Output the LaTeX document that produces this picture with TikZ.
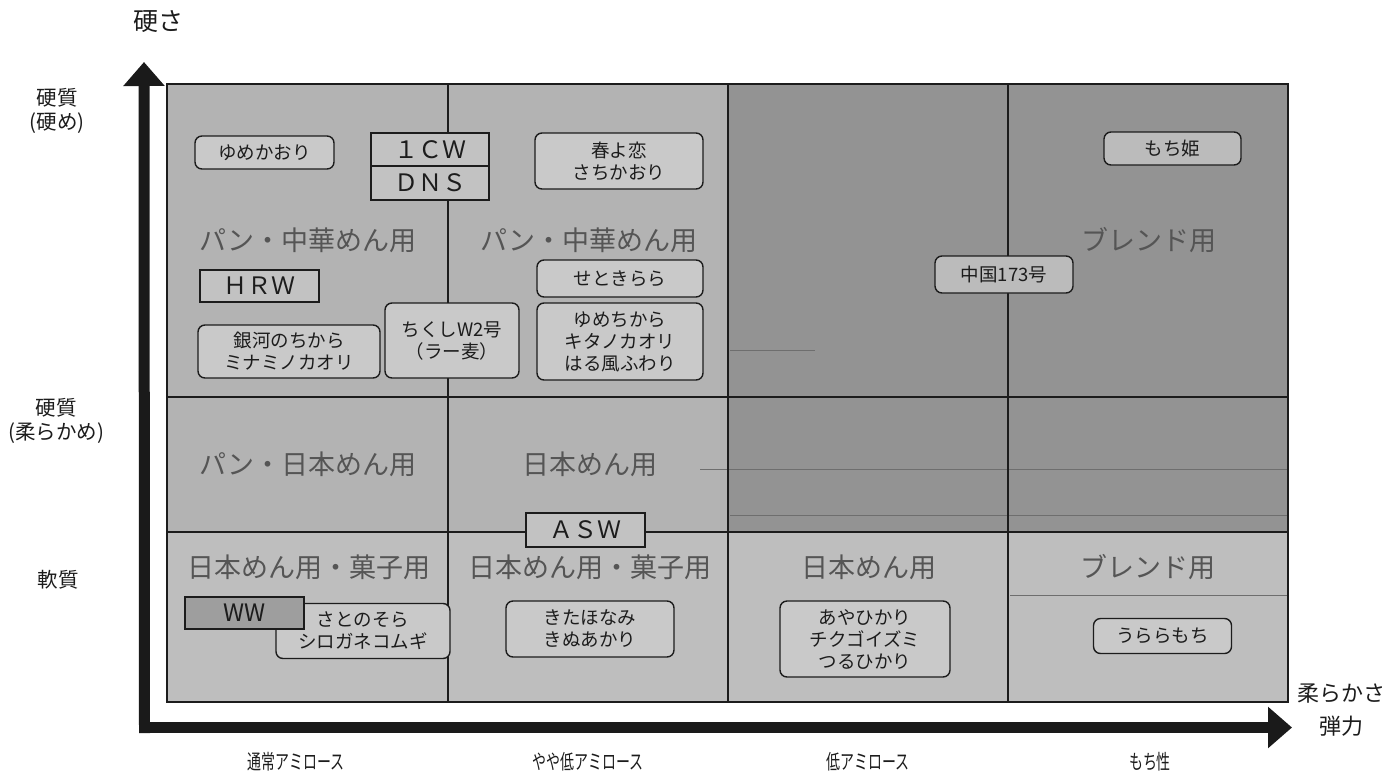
\documentclass[tikz,border=0pt]{standalone}
\usepackage{fontspec}
\usepackage{graphicx}
\setmainfont{Noto Sans CJK JP}
\usetikzlibrary{arrows.meta}
\definecolor{cellA}{HTML}{B3B3B3}
\definecolor{cellB}{HTML}{939393}
\definecolor{cellC}{HTML}{BEBEBE}
\definecolor{boxfill}{HTML}{C9C9C9}
\definecolor{boxdark}{HTML}{BBBBBB}
\definecolor{gradefill}{HTML}{C2C2C2}
\definecolor{wwfill}{HTML}{9E9E9E}
\definecolor{ink}{HTML}{1C1C1C}
\definecolor{labelgray}{HTML}{555555}
\definecolor{axisink}{HTML}{1A1A1A}
\definecolor{faintline}{HTML}{6E6E6E}
\tikzset{
  cultivar/.style={draw=ink, line width=1.4pt, rounded corners=7pt, fill=boxfill,
    align=center, inner sep=0pt, text=ink, font=\fontsize{18.5}{22}\selectfont},
  darkbox/.style={fill=boxdark},
  gradebox/.style={draw=ink, line width=1.4pt, fill=gradefill, inner sep=0pt,
    text=ink, font=\fontsize{24}{26}\selectfont},
  celllabel/.style={text=labelgray, inner sep=0pt, font=\fontsize{27}{30}\selectfont},
  sidelabel/.style={text=ink, align=center, inner sep=0pt, font=\fontsize{20.5}{24}\selectfont},
  bottomlabel/.style={text=ink, inner sep=0pt, font=\fontsize{20.5}{22}\selectfont},
  gridline/.style={draw=ink, line width=1.2pt},
  faint/.style={draw=faintline, line width=0.6pt},
  axis/.style={draw=axisink, line width=11pt, line cap=rect,
    -{Triangle[length=24pt,width=40pt]}},
}
\begin{document}
\begin{tikzpicture}[x=1pt,y=-1pt]
\useasboundingbox (0,0) rectangle (1386,774);
% cells
\fill[cellA] (167,84) rectangle (728,532);
\fill[cellB] (728,84) rectangle (1288,532);
\fill[cellC] (167,532) rectangle (1288,702);
% faint scan lines
\draw[faint] (700,469) -- (1288,469);
\draw[faint] (730,515) -- (1288,515);
\draw[faint] (730,350) -- (815,350);
\draw[faint] (1010,595) -- (1288,595);
% grid
\draw[gridline] (167,84) rectangle (1288,702);
\draw[gridline] (448,84) -- (448,702);
\draw[gridline] (728,84) -- (728,702);
\draw[gridline] (1008,84) -- (1008,702);
\draw[gridline] (167,397) -- (1288,397);
\draw[gridline] (167,532) -- (1288,532);
% axes
\coordinate (origin) at (144.5,727.5);
\coordinate (ytip) at (144,62);
\coordinate (xtip) at (1292,727.5);
\draw[axis] (origin) -- (ytip);
\draw[axis] (origin) -- (xtip);
% axis labels
\node[text=ink, inner sep=0pt, font=\fontsize{25}{27}\selectfont] (hardness) at (158,22) {硬さ};
\node[text=ink, align=center, inner sep=0pt, font=\fontsize{22}{33}\selectfont] (softness) at (1341,710) {柔らかさ\\弾力};
\node[sidelabel] (hardhigh) at (57,111) {硬質\\(硬め)};
\node[sidelabel] (hardsoft) at (56,421) {硬質\\(柔らかめ)};
\node[sidelabel] (softq) at (58,580) {軟質};
\node[bottomlabel] (amyA) at (296,762) {\scalebox{0.68}[1]{通常アミロース}};
\node[bottomlabel] (amyB) at (588,762) {\scalebox{0.68}[1]{やや低アミロース}};
\node[bottomlabel] (amyC) at (868,762) {\scalebox{0.68}[1]{低アミロース}};
\node[bottomlabel] (amyD) at (1150,762) {\scalebox{0.68}[1]{もち性}};
% cell labels
\node[celllabel] (use11) at (308,240) {パン・中華めん用};
\node[celllabel] (use12) at (589,240) {パン・中華めん用};
\node[celllabel] (use14) at (1149,240) {ブレンド用};
\node[celllabel] (use21) at (308,464) {パン・日本めん用};
\node[celllabel] (use22) at (590,464) {日本めん用};
\node[celllabel] (use31) at (309,567) {日本めん用・菓子用};
\node[celllabel] (use32) at (590,567) {日本めん用・菓子用};
\node[celllabel] (use33) at (869,567) {日本めん用};
\node[celllabel] (use34) at (1148,567) {ブレンド用};
% cultivar boxes
\node[cultivar, minimum width=139pt, minimum height=33pt] (yumekaori) at (264.5,152.5) {ゆめかおり};
\node[gradebox, minimum width=118pt, minimum height=33pt] (cw) at (430,149.5) {１ＣＷ};
\node[gradebox, minimum width=118pt, minimum height=34pt] (dns) at (430,183) {ＤＮＳ};
\node[cultivar, minimum width=168pt, minimum height=56pt] (haruyokoi) at (619,161) {春よ恋\\さちかおり};
\node[gradebox, minimum width=119pt, minimum height=32pt] (hrw) at (259.5,286) {ＨＲＷ};
\node[cultivar, minimum width=166pt, minimum height=37pt] (setokirara) at (620,278.5) {せときらら};
\node[cultivar, minimum width=166pt, minimum height=77pt] (yumechikara) at (620,341.5) {ゆめちから\\キタノカオリ\\はる風ふわり};
\node[cultivar, minimum width=134pt, minimum height=75pt] (chikushi) at (452,340.5) {ちくしW2号\\（ラー麦）};
\node[cultivar, minimum width=182pt, minimum height=53pt] (ginga) at (289,351.5) {銀河のちから\\ミナミノカオリ};
\node[cultivar, darkbox, minimum width=138pt, minimum height=37pt] (chugoku) at (1004,274.5) {中国173号};
\node[cultivar, darkbox, minimum width=137pt, minimum height=33pt] (mochihime) at (1172.5,148.5) {もち姫};
\node[gradebox, minimum width=119pt, minimum height=34pt] (asw) at (585.5,530) {ＡＳＷ};
\node[cultivar, minimum width=174pt, minimum height=55pt] (satonosora) at (363,631) {さとのそら\\シロガネコムギ};
\node[gradebox, fill=wwfill, minimum width=119pt, minimum height=32pt] (ww) at (244.5,613) {WW};
\node[cultivar, minimum width=168pt, minimum height=56pt] (kitahonami) at (590,629) {きたほなみ\\きぬあかり};
\node[cultivar, minimum width=170pt, minimum height=76pt] (ayahikari) at (865,639) {あやひかり\\チクゴイズミ\\つるひかり};
\node[cultivar, minimum width=138pt, minimum height=35pt] (urara) at (1162.5,636) {うららもち};
\end{tikzpicture}
\end{document}
